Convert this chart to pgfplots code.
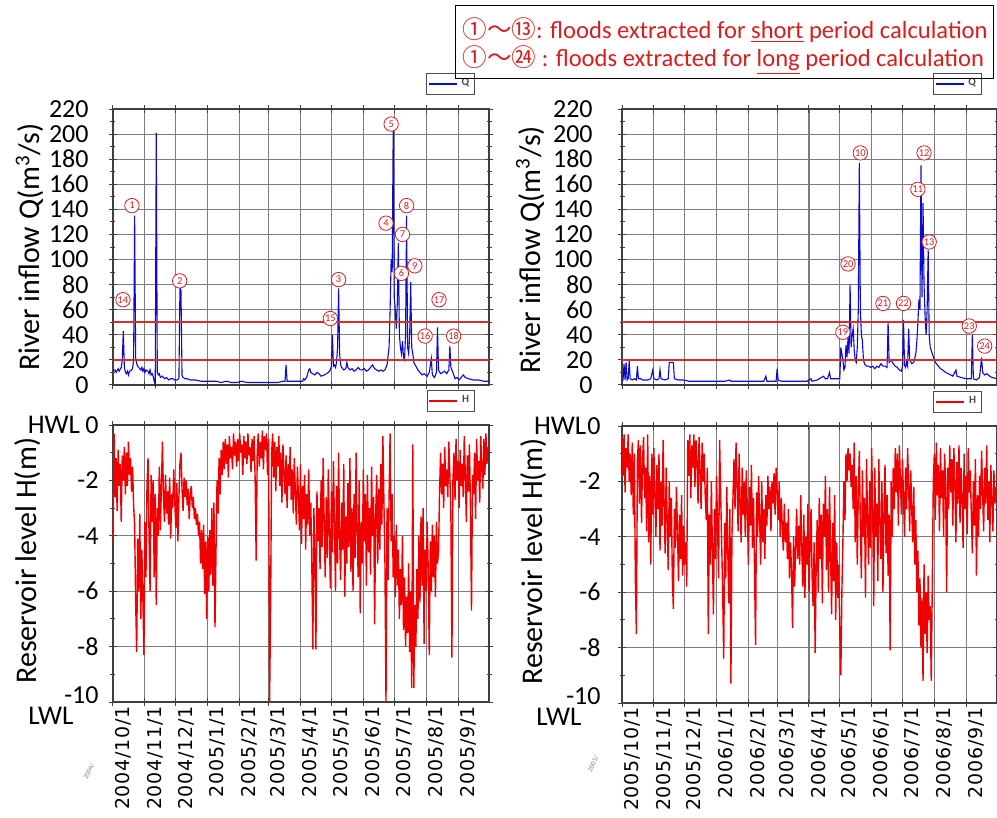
\documentclass[border=0pt]{standalone}
\usepackage{fontspec}
\setmainfont{Carlito}
\newfontfamily\dejavu[LetterSpace=4]{DejaVu Sans}
\newfontfamily\cjk{Noto Sans CJK JP}
\usepackage{pgfplots}
\pgfplotsset{compat=1.18}
\usepackage{pgfplotstable}
\definecolor{qblue}{RGB}{10,10,210}
\definecolor{hred}{RGB}{240,0,0}
\definecolor{thr}{RGB}{215,45,45}
\definecolor{ann}{RGB}{215,30,30}
\definecolor{gridc}{RGB}{125,125,125}

\pgfplotstableread[row sep=\\]{
h\\
-4.2\\ -0.3\\ -2.6\\ -1.2\\ -3.1\\ -0.9\\ -2.2\\ -1.4\\ -3.5\\ -1.1\\
-2.0\\ -0.8\\ -2.5\\ -1.0\\ -2.2\\ -0.6\\ -1.8\\ -1.2\\ -2.4\\ -1.5\\
-2.9\\ -3.6\\ -6.4\\ -8.2\\ -4.1\\ -6.0\\ -3.2\\ -7.0\\ -4.5\\ -6.2\\
-8.3\\ -3.5\\ -5.5\\ -2.2\\ -1.2\\ -4.0\\ -6.0\\ -1.8\\ -3.5\\ -2.0\\
-5.5\\ -2.5\\ -6.5\\ -3.0\\ -4.0\\ -1.5\\ -3.8\\ -2.2\\ -0.6\\ -2.6\\
-3.5\\ -1.8\\ -3.2\\ -2.4\\ -3.6\\ -1.9\\ -4.1\\ -2.5\\ -3.0\\ -1.6\\
-2.8\\ -3.7\\ -2.1\\ -4.2\\ -2.6\\ -1.4\\ -1.0\\ -2.3\\ -3.1\\ -1.9\\
-2.6\\ -2.0\\ -2.9\\ -2.3\\ -3.4\\ -2.5\\ -2.2\\ -3.0\\ -2.6\\ -3.4\\
-3.0\\ -3.6\\ -3.2\\ -4.0\\ -3.5\\ -5.0\\ -3.8\\ -5.2\\ -3.6\\ -6.1\\
-4.2\\ -7.0\\ -4.0\\ -6.0\\ -3.8\\ -5.4\\ -3.0\\ -5.8\\ -2.8\\ -7.3\\
-4.5\\ -2.0\\ -3.2\\ -1.2\\ -2.5\\ -0.9\\ -1.8\\ -0.6\\ -1.6\\ -0.5\\
-1.4\\ -0.7\\ -1.9\\ -0.4\\ -1.2\\ -0.8\\ -1.6\\ -0.3\\ -1.1\\ -0.6\\
-1.5\\ -0.5\\ -1.3\\ -0.3\\ -1.0\\ -0.7\\ -1.8\\ -0.4\\ -1.2\\ -0.6\\
-1.4\\ -0.3\\ -1.1\\ -0.8\\ -1.7\\ -0.5\\ -1.3\\ -0.4\\ -2.0\\ -4.9\\
-1.0\\ -0.3\\ -1.5\\ -0.6\\ -1.2\\ -0.2\\ -1.6\\ -0.4\\ -0.9\\ -0.3\\
-1.8\\ -0.5\\ -10.0\\ -6.5\\ -1.0\\ -0.3\\ -1.9\\ -0.6\\ -2.4\\ -0.8\\
-1.5\\ -0.4\\ -2.2\\ -1.0\\ -2.8\\ -0.7\\ -1.7\\ -2.5\\ -1.1\\ -3.0\\
-1.4\\ -2.2\\ -0.8\\ -2.7\\ -1.6\\ -3.2\\ -1.2\\ -2.4\\ -3.6\\ -1.5\\
-2.6\\ -3.8\\ -1.4\\ -4.3\\ -2.2\\ -3.4\\ -1.8\\ -4.5\\ -2.5\\ -3.6\\
-1.6\\ -4.0\\ -2.8\\ -5.0\\ -8.1\\ -3.0\\ -4.6\\ -8.1\\ -2.4\\ -4.2\\
-3.0\\ -5.2\\ -2.0\\ -4.4\\ -1.2\\ -3.5\\ -5.5\\ -2.6\\ -4.8\\ -1.6\\
-3.8\\ -5.9\\ -2.4\\ -4.6\\ -1.3\\ -3.6\\ -6.0\\ -2.2\\ -5.0\\ -1.0\\
-4.0\\ -5.6\\ -2.8\\ -4.5\\ -1.4\\ -6.2\\ -3.3\\ -5.0\\ -2.1\\ -4.4\\
-1.2\\ -5.3\\ -3.0\\ -6.0\\ -2.5\\ -4.8\\ -1.0\\ -3.8\\ -5.5\\ -2.0\\
-6.8\\ -3.5\\ -5.0\\ -1.6\\ -4.2\\ -2.5\\ -5.8\\ -1.8\\ -4.6\\ -3.0\\
-5.4\\ -1.5\\ -4.0\\ -2.6\\ -7.2\\ -3.2\\ -1.8\\ -5.0\\ -2.3\\ -4.5\\
-1.4\\ -3.6\\ -0.4\\ -2.8\\ -5.0\\ -10.0\\ -3.0\\ -5.6\\ -2.6\\ -0.3\\
-4.2\\ -2.5\\ -5.5\\ -4.0\\ -6.2\\ -3.6\\ -5.8\\ -4.5\\ -7.0\\ -5.2\\
-6.5\\ -4.0\\ -7.4\\ -5.5\\ -8.0\\ -6.2\\ -7.5\\ -5.0\\ -8.2\\ -6.0\\
-9.5\\ -0.7\\ -9.5\\ -6.5\\ -8.0\\ -5.2\\ -7.0\\ -4.0\\ -6.4\\ -3.3\\
-5.8\\ -3.0\\ -7.9\\ -4.5\\ -6.0\\ -3.5\\ -5.2\\ -8.3\\ -4.2\\ -6.0\\
-3.6\\ -5.5\\ -4.0\\ -6.2\\ -3.5\\ -5.0\\ -4.6\\ -2.4\\ -1.0\\ -2.5\\
-1.4\\ -3.0\\ -0.8\\ -2.2\\ -1.6\\ -2.6\\ -0.6\\ -1.8\\ -3.2\\ -8.4\\
-2.0\\ -1.0\\ -2.7\\ -0.5\\ -2.0\\ -1.3\\ -3.0\\ -0.9\\ -2.2\\ -1.4\\
-2.6\\ -0.4\\ -1.8\\ -3.5\\ -1.1\\ -2.4\\ -0.7\\ -3.0\\ -6.7\\ -1.8\\
-2.5\\ -1.0\\ -3.4\\ -0.5\\ -2.0\\ -1.3\\ -2.8\\ -0.4\\ -1.6\\ -2.3\\
-0.5\\ -1.8\\ -0.3\\ -1.4\\ -0.8\\
}\HA

\pgfplotstableread[row sep=\\]{
h\\
-0.4\\ -1.8\\ -0.3\\ -2.4\\ -0.8\\ -1.5\\ -0.3\\ -2.0\\ -1.0\\ -2.5\\
-0.6\\ -3.2\\ -1.0\\ -5.5\\ -7.5\\ -1.2\\ -0.5\\ -2.8\\ -0.7\\ -3.5\\
-1.2\\ -0.4\\ -2.6\\ -1.5\\ -3.8\\ -0.3\\ -4.2\\ -1.8\\ -5.0\\ -1.0\\
-3.2\\ -0.8\\ -2.5\\ -4.0\\ -1.4\\ -3.0\\ -1.0\\ -4.5\\ -2.0\\ -3.6\\
-0.5\\ -2.8\\ -4.6\\ -1.5\\ -3.5\\ -5.2\\ -2.0\\ -4.0\\ -2.6\\ -5.5\\
-6.6\\ -3.0\\ -4.4\\ -2.2\\ -3.8\\ -5.6\\ -3.2\\ -4.8\\ -2.5\\ -5.4\\
-3.6\\ -5.0\\ -4.2\\ -5.8\\ -0.5\\ -1.8\\ -0.3\\ -2.6\\ -0.7\\ -1.5\\
-0.3\\ -2.2\\ -0.5\\ -1.2\\ -2.8\\ -0.4\\ -1.6\\ -3.0\\ -0.6\\ -2.0\\
-1.0\\ -2.5\\ -3.4\\ -1.5\\ -7.5\\ -3.2\\ -5.0\\ -2.0\\ -4.5\\ -6.8\\
-3.0\\ -4.8\\ -1.8\\ -3.6\\ -5.5\\ -0.5\\ -2.4\\ -4.2\\ -6.0\\ -8.4\\
-3.5\\ -5.5\\ -2.2\\ -4.6\\ -6.4\\ -3.0\\ -9.3\\ -4.0\\ -2.6\\ -1.2\\
-3.0\\ -0.6\\ -2.0\\ -3.8\\ -1.0\\ -2.8\\ -4.2\\ -1.5\\ -3.2\\ -2.0\\
-4.0\\ -1.6\\ -3.0\\ -5.0\\ -2.2\\ -3.6\\ -1.4\\ -4.4\\ -2.6\\ -5.2\\
-7.9\\ -2.4\\ -4.0\\ -1.8\\ -3.4\\ -5.0\\ -2.0\\ -4.2\\ -3.0\\ -4.8\\
-2.5\\ -3.6\\ -1.8\\ -3.0\\ -2.2\\ -3.8\\ -2.0\\ -2.8\\ -1.7\\ -3.2\\
-1.5\\ -2.4\\ -3.4\\ -2.0\\ -4.0\\ -2.6\\ -3.6\\ -4.5\\ -2.8\\ -4.2\\
-3.5\\ -4.8\\ -3.0\\ -5.5\\ -4.2\\ -5.2\\ -7.3\\ -4.0\\ -5.8\\ -4.4\\
-3.0\\ -4.8\\ -3.6\\ -5.0\\ -2.5\\ -4.5\\ -5.8\\ -3.2\\ -6.2\\ -4.0\\
-5.0\\ -2.8\\ -6.0\\ -4.4\\ -3.0\\ -5.4\\ -6.5\\ -4.2\\ -8.2\\ -5.0\\
-3.4\\ -6.0\\ -2.6\\ -4.8\\ -3.2\\ -6.4\\ -2.8\\ -4.0\\ -1.8\\ -5.2\\
-3.0\\ -6.0\\ -2.2\\ -4.6\\ -6.8\\ -3.5\\ -5.6\\ -2.5\\ -7.0\\ -4.2\\
-6.2\\ -5.0\\ -7.5\\ -9.0\\ -6.0\\ -4.2\\ -2.0\\ -3.4\\ -1.0\\ -2.0\\
-0.8\\ -1.6\\ -1.0\\ -2.2\\ -1.4\\ -3.0\\ -0.6\\ -4.2\\ -1.8\\ -5.0\\
-2.4\\ -0.9\\ -3.6\\ -5.5\\ -1.6\\ -4.0\\ -2.6\\ -6.2\\ -1.2\\ -3.4\\
-5.0\\ -2.0\\ -4.4\\ -0.8\\ -3.0\\ -6.5\\ -1.5\\ -4.0\\ -2.8\\ -5.6\\
-1.2\\ -3.5\\ -4.8\\ -2.0\\ -6.0\\ -3.0\\ -1.4\\ -4.6\\ -2.5\\ -5.4\\
-3.2\\ -8.1\\ -2.0\\ -4.0\\ -1.5\\ -3.0\\ -0.8\\ -2.4\\ -1.0\\ -3.6\\
-0.7\\ -2.0\\ -3.2\\ -1.2\\ -2.6\\ -4.0\\ -1.5\\ -3.0\\ -0.8\\ -2.2\\
-3.8\\ -1.6\\ -3.0\\ -4.2\\ -2.2\\ -5.0\\ -3.4\\ -6.0\\ -4.5\\ -7.2\\
-5.5\\ -8.0\\ -6.2\\ -9.2\\ -5.0\\ -7.5\\ -6.0\\ -8.2\\ -5.4\\ -7.0\\
-6.5\\ -9.2\\ -5.8\\ -2.0\\ -1.0\\ -3.4\\ -0.6\\ -2.5\\ -1.4\\ -3.8\\
-0.8\\ -2.6\\ -1.6\\ -4.0\\ -1.0\\ -2.2\\ -6.0\\ -1.5\\ -3.0\\ -0.7\\
-2.4\\ -1.2\\ -3.6\\ -0.8\\ -2.0\\ -4.2\\ -1.3\\ -2.8\\ -0.7\\ -3.5\\
-1.5\\ -2.6\\ -4.4\\ -1.0\\ -3.0\\ -1.8\\ -3.9\\ -0.8\\ -2.4\\ -1.6\\
-3.2\\ -4.6\\ -2.0\\ -3.6\\ -1.2\\ -5.4\\ -2.5\\ -4.0\\ -1.8\\ -3.0\\
-0.9\\ -2.4\\ -3.8\\ -1.5\\ -2.8\\ -0.7\\ -3.4\\ -2.0\\ -4.2\\ -1.4\\
-2.6\\ -3.8\\ -1.6\\ -2.8\\ -2.2\\
}\HB

\tikzset{cn/.style={circle, draw=ann, text=ann, line width=0.4pt, inner sep=0pt,
  minimum size=7.2pt, font=\fontsize{5.2}{5.2}\selectfont, fill=white}}

\pgfplotsset{
 legend image code/.code={\draw[#1, line width=0.8pt] (0pt,0pt) -- (14pt,0pt);},
 base/.style={scale only axis, width=188pt, xmin=0, xmax=365, clip=false,
   xtick={0,31,61,92,123,151,182,212,243,273,304,335},
   grid=major, major grid style={gridc, line width=0.55pt},
   axis line style={black!75, line width=0.6pt},
   tick align=center, major tick length=4pt, minor tick length=2.5pt,
   tick style={black!75, line width=0.5pt},
   /pgf/number format/assume math mode=true,
   yticklabel style={font=\fontsize{13}{13}\selectfont, inner sep=0pt},
   ylabel style={font=\fontsize{15}{16}\selectfont, anchor=center},
   legend style={font=\fontsize{5.5}{6}\selectfont\bfseries, text=black!70, draw=black!70,
     inner sep=0.8pt, line width=0.4pt, anchor=south east, cells={anchor=west}},
 },
 topax/.style={base, height=138pt, ymin=0, ymax=220, ytick={0,20,...,220},
   minor y tick num=1, xticklabels={},
   ylabel={River inflow Q(m\textsuperscript{3}/s)}},
 botax/.style={base, height=138.5pt, ymin=-10, ymax=0, ytick={-10,-8,-6,-4,-2,0},
   yticklabels={\raisebox{7pt}{-10},-8,-6,-4,-2,0}, minor y tick num=1,
   ylabel={Reservoir level H(m)},
   xticklabel style={rotate=90, anchor=east, font=\dejavu\fontsize{9.5}{9.5}\selectfont,
     inner sep=0pt, yshift=-5pt}},
}

\begin{document}
\begin{tikzpicture}
\useasboundingbox (0,0) rectangle (498.5pt,-409pt);

% ---------------- top left: Q 2004/10 - 2005/9
\begin{axis}[topax, at={(56.5pt,-192.5pt)}, anchor=south west,
  yticklabel style={xshift=-10pt},
  ylabel style={at={(axis description cs:-0.221,0.5)}},
  legend style={at={(0.963,1.051)}}]
\addplot[qblue, line width=0.55pt] coordinates {
(0,11) (2,12) (3,10) (5,13) (6,11) (8,14) (9,20) (10,43) (11,15) (12,10) (13,9) (14,11)
(15,8) (16,11) (18,12) (19,13) (20,20) (21,135) (22,22) (23,17) (24,15) (25,14) (27,12)
(28,14) (29,11) (30,13) (31,10) (32,12) (34,11) (35,9) (36,12) (37,8) (38,9) (39,7) (40,3)
(41,0) (42,201) (43,10) (44,8) (45,9) (46,6) (48,7) (50,5) (52,6) (54,4) (56,5) (58,5)
(60,4) (62,4) (64,5) (65,78) (66,75) (67,8) (68,6) (70,5) (72,5) (75,4) (80,4) (85,3)
(90,3) (95,3) (100,3) (105,2) (110,3) (115,2) (120,2) (125,3) (130,2) (135,2) (140,2)
(145,2) (150,2) (155,2) (160,2) (165,3) (167,3) (168,16) (169,3) (172,3) (175,3) (180,3)
(184,3) (185,5) (186,4) (188,6) (190,12) (191,13) (192,10) (194,9) (196,8) (198,10)
(200,9) (202,7) (205,8) (207,9) (209,10) (211,12) (212,15) (213,40) (214,15) (215,16)
(216,14) (217,18) (218,30) (219,77) (220,25) (221,16) (222,14) (224,12) (226,13) (227,18)
(228,14) (230,12) (232,13) (234,11) (236,12) (238,14) (240,12) (242,12) (244,13) (246,11)
(248,12) (250,14) (252,16) (254,13) (256,12) (258,11) (260,12) (262,11) (264,12) (265,14)
(266,16) (268,30) (269,60) (270,100) (271,90) (272,205) (273,70) (274,60) (275,45)
(276,65) (277,113) (278,40) (279,30) (280,25) (281,35) (282,22) (283,20) (284,40)
(285,135) (286,30) (287,25) (288,40) (289,82) (290,30) (291,25) (292,18) (294,15)
(296,12) (298,10) (300,8) (302,9) (305,7) (307,10) (309,21) (310,8) (312,6) (314,10)
(315,46) (316,12) (318,9) (320,10) (322,11) (324,9) (326,12) (327,31) (328,14) (330,10)
(332,5) (334,6) (336,4) (338,6) (340,8) (342,6) (345,5) (350,4) (355,4) (360,3) (365,3)};
\addlegendentry{Q}
\addplot[thr, line width=0.8pt, forget plot] coordinates {(0,20) (365,20)};
\addplot[thr, line width=0.8pt, forget plot] coordinates {(0,50) (365,50)};
\node[cn] at (axis cs:18.4,143) {1};
\node[cn] at (axis cs:64.7,83) {2};
\node[cn] at (axis cs:219,84) {3};
\node[cn] at (axis cs:265,129) {4};
\node[cn] at (axis cs:270,208) {5};
\node[cn] at (axis cs:280,89) {6};
\node[cn] at (axis cs:281,120) {7};
\node[cn] at (axis cs:285,143) {8};
\node[cn] at (axis cs:293,95) {9};
\node[cn] at (axis cs:9.7,68) {14};
\node[cn] at (axis cs:211,53) {15};
\node[cn] at (axis cs:303,39) {16};
\node[cn] at (axis cs:316.5,68) {17};
\node[cn] at (axis cs:330.7,39) {18};
\end{axis}

% ---------------- top right: Q 2005/10 - 2006/9
\begin{axis}[topax, at={(311pt,-192.5pt)}, anchor=south west, width=187.5pt,
  yticklabel style={xshift=-12.5pt},
  ylabel style={at={(axis description cs:-0.245,0.49)}},
  legend style={at={(0.96,1.051)}}]
\addplot[qblue, line width=0.55pt] coordinates {
(0,4) (1,4) (2,17) (3,4) (4,18) (5,4) (6,5) (7,19) (8,5) (10,4) (12,5) (14,4) (15,15)
(16,5) (18,5) (20,4) (25,4) (28,5) (30,12) (31,5) (34,4) (36,5) (37,12) (38,5) (42,4)
(45,5) (46,18) (50,18) (51,5) (55,4) (60,4) (65,3) (70,3) (80,3) (90,3) (100,3) (105,4)
(106,3) (110,3) (120,3) (130,3) (138,3) (140,7) (141,3) (145,3) (150,3) (151,13) (152,4)
(155,3) (160,3) (170,3) (175,3) (180,3) (184,5) (185,3) (190,4) (194,6) (196,7) (198,5)
(200,5) (202,10) (203,5) (206,5) (210,5) (212,5) (213,30) (214,25) (215,20) (216,12)
(217,14) (218,32) (219,22) (220,38) (221,25) (222,80) (223,30) (224,40) (225,45) (226,28)
(227,20) (228,18) (229,30) (230,60) (231,177) (232,60) (233,40) (234,35) (235,20) (236,17)
(238,15) (240,15) (242,14) (244,15) (246,13) (248,15) (250,14) (252,17) (254,15) (256,15)
(258,14) (259,50) (260,18) (262,20) (264,17) (266,15) (268,14) (270,12) (272,11) (273,15)
(274,52) (275,16) (276,14) (277,18) (278,15) (279,45) (280,20) (282,17) (284,18) (286,25)
(287,35) (288,50) (289,68) (290,60) (291,175) (292,70) (293,145) (294,80) (295,55) (296,40)
(297,60) (298,108) (299,40) (300,30) (302,25) (305,18) (308,15) (310,13) (312,12) (315,10)
(320,8) (322,7) (325,12) (326,7) (330,6) (335,5) (338,5) (340,5) (341,40) (342,5) (345,4)
(348,6) (350,22) (351,10) (353,8) (355,9) (358,7) (360,6) (365,5)};
\addlegendentry{Q}
\addplot[thr, line width=0.8pt, forget plot] coordinates {(0,20) (365,20)};
\addplot[thr, line width=0.8pt, forget plot] coordinates {(0,50) (365,50)};
\node[cn] at (axis cs:232,185) {10};
\node[cn] at (axis cs:288,156) {11};
\node[cn] at (axis cs:294,185) {12};
\node[cn] at (axis cs:299,114) {13};
\node[cn] at (axis cs:215,42) {19};
\node[cn] at (axis cs:220,96.5) {20};
\node[cn] at (axis cs:254,65) {21};
\node[cn] at (axis cs:274,65) {22};
\node[cn] at (axis cs:338,47) {23};
\node[cn] at (axis cs:353,31) {24};
\end{axis}

% ---------------- bottom left: H
\begin{axis}[botax, at={(56.5pt,-351pt)}, anchor=south west,
  yticklabel style={xshift=-5pt},
  ylabel style={at={(axis description cs:-0.226,0.51)}},
  legend style={at={(0.963,1.047)}},
  xticklabels={2004/10/1,2004/11/1,2004/12/1,2005/1/1,2005/2/1,2005/3/1,2005/4/1,2005/5/1,2005/6/1,2005/7/1,2005/8/1,2005/9/1}]
\addplot[hred, line width=0.7pt] table[x expr=\coordindex, y=h] {\HA};
\addlegendentry{H}
\node[font=\fontsize{13.5}{14}\selectfont] at (axis description cs:-0.157,1) {HWL};
\node[font=\fontsize{13.5}{14}\selectfont] at (axis description cs:-0.165,-0.05) {LWL};
\node[font=\fontsize{3.5}{4}\selectfont, text=gray, rotate=65] at (axis description cs:-0.064,-0.25) {2004/};
\end{axis}

% ---------------- bottom right: H
\begin{axis}[botax, at={(311pt,-351.5pt)}, anchor=south west, width=187.5pt,
  yticklabel style={xshift=-8.5pt},
  ylabel style={at={(axis description cs:-0.235,0.51)}},
  legend style={at={(0.96,1.047)}},
  xticklabels={2005/10/1,2005/11/1,2005/12/1,2006/1/1,2006/2/1,2006/3/1,2006/4/1,2006/5/1,2006/6/1,2006/7/1,2006/8/1,2006/9/1}]
\addplot[hred, line width=0.7pt] table[x expr=\coordindex, y=h] {\HB};
\addlegendentry{H}
\node[font=\fontsize{13.5}{14}\selectfont] at (axis description cs:-0.165,1) {HWL};
\node[font=\fontsize{13.5}{14}\selectfont] at (axis description cs:-0.168,-0.05) {LWL};
\node[font=\fontsize{3.5}{4}\selectfont, text=gray, rotate=65] at (axis description cs:-0.077,-0.22) {2005/};
\end{axis}

% ---------------- legend box
\node[draw=black, line width=0.7pt, anchor=north west, inner sep=0pt,
  minimum width=269pt, minimum height=36.5pt] at (227.5pt,-2.5pt) {};
\node[anchor=west, text=ann, font=\fontsize{12.3}{13}\selectfont, inner sep=0pt] at (231pt,-15pt)
  {{\cjk ①～⑬}: floods extracted for \underline{short} period calculation};
\node[anchor=west, text=ann, font=\fontsize{12.3}{13}\selectfont, inner sep=0pt] at (231pt,-30pt)
  {{\cjk ①～㉔} : floods extracted for \underline{long} period calculation};
\end{tikzpicture}
\end{document}
